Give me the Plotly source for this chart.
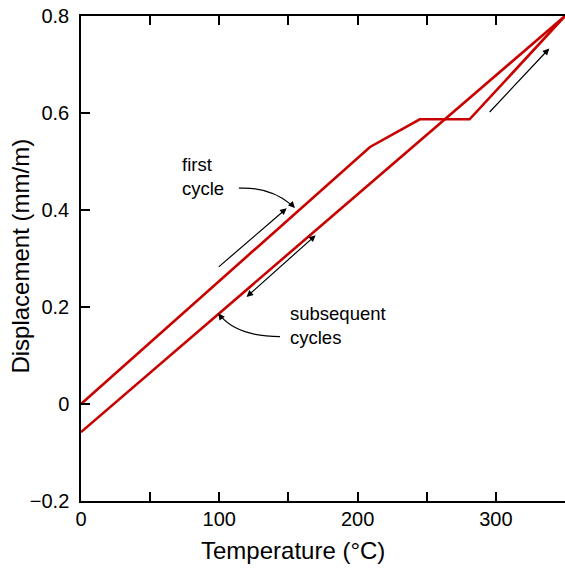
import plotly.graph_objects as go

# ---- data ----
first_temp = [0, 209, 245, 281, 350]
first_disp = [0.0, 0.530, 0.587, 0.587, 0.80]
subs_temp = [0, 350]
subs_disp = [-0.058, 0.80]

x_ticks = [0, 100, 200, 300]
y_ticks = [-0.2, 0, 0.2, 0.4, 0.6, 0.8]
y_tick_text = ["\u22120.2", "0", "0.2", "0.4", "0.6", "0.8"]

FONT = "Liberation Sans, Arial, Helvetica, sans-serif"
RED = "#c80000"

fig = go.Figure()
fig.add_trace(go.Scatter(x=first_temp, y=first_disp, mode="lines",
                         line=dict(color=RED, width=2.6), cliponaxis=False,
                         showlegend=False, hoverinfo="skip"))
fig.add_trace(go.Scatter(x=subs_temp, y=subs_disp, mode="lines",
                         line=dict(color=RED, width=2.6), cliponaxis=False,
                         showlegend=False, hoverinfo="skip"))

tick_common = dict(ticks="inside", ticklen=9, tickwidth=1.5, tickcolor="black",
                   showgrid=False, zeroline=False,
                   tickfont=dict(family=FONT, size=20, color="black"))

fig.update_layout(
    xaxis=dict(range=[0, 350], tickvals=[0, 50, 100, 150, 200, 250, 300, 350],
               ticktext=["0", "", "100", "", "200", "", "300", ""],
               showline=True, linecolor="black", linewidth=1.5, mirror="ticks",
               ticklabelstandoff=-1, **tick_common),
    yaxis=dict(range=[-0.2, 0.8], tickvals=y_ticks, ticktext=y_tick_text,
               showline=True, linecolor="black", linewidth=1.5, mirror=False,
               ticklabelstandoff=6, **tick_common),
    yaxis2=dict(range=[-0.2, 0.8], tickvals=y_ticks, overlaying="y", side="right",
                showline=False, showticklabels=False, **tick_common),
)

ann = []
tfont = dict(family=FONT, size=18.5, color="black")
ann.append(dict(x=71.6, y=0.470, xref="x", yref="y", text="first<br>cycle",
                showarrow=False, xanchor="left", yanchor="middle", align="left",
                font=tfont))
ann.append(dict(x=149.7, y=0.161, xref="x", yref="y", text="subsequent<br>cycles",
                showarrow=False, xanchor="left", yanchor="middle", align="left",
                font=tfont))

arrow_common = dict(xref="x", yref="y", axref="x", ayref="y", text="",
                    showarrow=True, arrowcolor="black", arrowwidth=1.2,
                    arrowhead=2, arrowsize=1.1, standoff=0, startstandoff=0)
# straight arrows (head x,y ; tail ax,ay)
ann.append(dict(x=148.7, y=0.4035, ax=98.5, ay=0.280, **arrow_common))
ann.append(dict(x=169.7, y=0.348, ax=118.6, ay=0.218, arrowside="end+start",
                startarrowhead=2, startarrowsize=1.1, **arrow_common))
ann.append(dict(x=338.6, y=0.733, ax=294.5, ay=0.599, **arrow_common))
# heads of curved arrows
ann.append(dict(x=154.7, y=0.404, ax=151.0, ay=0.415, **arrow_common))
ann.append(dict(x=99.3, y=0.187, ax=102.3, ay=0.175, **arrow_common))

# axis titles
ann.append(dict(x=0.437, y=-0.103, xref="paper", yref="paper", text="Temperature (\u00b0C)",
                showarrow=False, xanchor="center", yanchor="middle",
                font=dict(family=FONT, size=24, color="black")))
ann.append(dict(x=-0.124, y=0.506, xref="paper", yref="paper", text="Displacement (mm/m)",
                showarrow=False, xanchor="center", yanchor="middle", textangle=-90,
                font=dict(family=FONT, size=24, color="black")))

shapes = [
    dict(type="path", xref="x", yref="y",
         path="M 114.2,0.445 Q 136.7,0.448 152.5,0.410",
         line=dict(color="black", width=1.2)),
    dict(type="path", xref="x", yref="y",
         path="M 143.9,0.139 Q 113.7,0.139 101.0,0.181",
         line=dict(color="black", width=1.2)),
]

fig.update_layout(width=565, height=568, margin=dict(l=81, r=0, t=16, b=67),
                  paper_bgcolor="white", plot_bgcolor="white",
                  annotations=ann, shapes=shapes, showlegend=False)

fig.write_html("out.html")
